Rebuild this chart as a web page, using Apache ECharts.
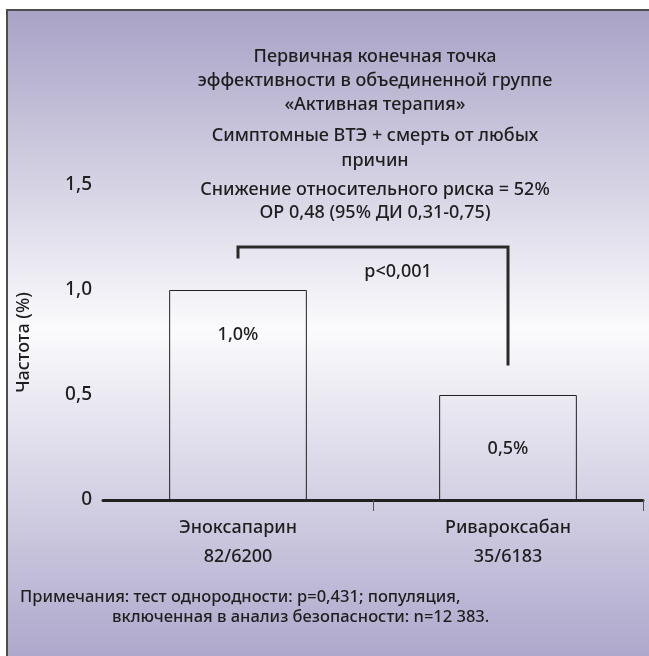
<!DOCTYPE html>
<html>
<head>
<meta charset="utf-8">
<style>
  html, body { margin: 0; padding: 0; background: #fff; overflow: hidden; }
  #chart { width: 649px; height: 656px; }
</style>
<script src="https://cdn.jsdelivr.net/npm/echarts@6/dist/echarts.min.js"></script>
</head>
<body>
<div id="chart"></div>
<script>
// Event rates (%) for the two treatment arms
const categories = ['Эноксапарин\n82/6200', 'Ривароксабан\n35/6183'];
const rates = [1.0, 0.5];
const rateLabels = ['1,0%', '0,5%'];

// Y axis ticks
const yTicks = [0, 0.5, 1.0, 1.5];
const yTickLabels = ['0', '0,5', '1,0', '1,5'];

// Significance bracket between the arms: [category index, level]
const bracketPoints = [[0, 1.15], [0, 1.205], [1, 1.205], [1, 0.64]];
const pValueText = 'p<0,001';

// Header and notes
const headerLines1 = ['Первичная конечная точка', 'эффективности в объединенной группе', '«Активная терапия»'];
const headerLines2 = ['Симптомные ВТЭ + смерть от любых', 'причин'];
const headerLines3 = ['Снижение относительного риска = 52%', 'ОР 0,48 (95% ДИ 0,31-0,75)'];
const noteLine1 = 'Примечания: тест однородности: p=0,431; популяция,';
const noteLine2 = 'включенная в анализ безопасности: n=12 383.';

const FONT = '"Noto Sans", sans-serif';
const INK = '#1e1e1e';
const WEIGHT = 500;

// gap between the top of each bar and its value label
const labelDistances = [36, 45];

const chart = echarts.init(document.getElementById('chart'), null, { renderer: 'canvas' });

const titleBase = {
  left: 375, textAlign: 'center', padding: 0,
  textStyle: { fontFamily: FONT, fontSize: 18, fontWeight: WEIGHT, color: INK }
};

chart.setOption({
  backgroundColor: '#ffffff',
  animation: false,
  title: [
    Object.assign({}, titleBase, { top: 45, text: headerLines1.join('\n'),
      textStyle: Object.assign({}, titleBase.textStyle, { lineHeight: 24 }) }),
    Object.assign({}, titleBase, { top: 123, text: headerLines2.join('\n'),
      textStyle: Object.assign({}, titleBase.textStyle, { lineHeight: 25 }) }),
    Object.assign({}, titleBase, { top: 178, text: headerLines3.join('\n'),
      textStyle: Object.assign({}, titleBase.textStyle, { lineHeight: 23 }) }),
    { left: 20, top: 589, padding: 0, text: noteLine1,
      textStyle: { fontFamily: FONT, fontSize: 16.5, fontWeight: WEIGHT, color: INK } },
    { left: 112, top: 609, padding: 0, text: noteLine2,
      textStyle: { fontFamily: FONT, fontSize: 16.5, fontWeight: WEIGHT, color: INK } }
  ],
  graphic: [
    {
      // panel background: lavender at the top and bottom, near white in the middle
      type: 'rect', z: -100, silent: true,
      shape: { x: 7, y: 10, width: 642, height: 646 },
      style: {
        fill: new echarts.graphic.LinearGradient(0, 10, 0, 656, [
          { offset: 0, color: '#a8a2c6' },
          { offset: 0.495, color: '#fbfbfd' },
          { offset: 1, color: '#aea8cc' }
        ], true)
      }
    },
    {
      // panel frame along the top and left edges
      type: 'polyline', z: -90, silent: true,
      shape: { points: [[7, 656], [7, 10], [649, 10]] },
      style: { stroke: '#4d4d4d', lineWidth: 2, fill: null }
    },
    {
      type: 'text', z: 10, x: 398, y: 272,
      style: { text: pValueText, fontFamily: FONT, fontSize: 18, fontWeight: WEIGHT, fill: INK,
        align: 'center', verticalAlign: 'middle' }
    }
  ],
  grid: { left: 103, right: 6, top: 185, bottom: 156 },
  xAxis: [
    {
      type: 'category', data: categories, boundaryGap: true,
      axisLine: { lineStyle: { color: '#222', width: 3 } },
      axisTick: { show: false },
      axisLabel: { fontFamily: FONT, fontSize: 18, fontWeight: WEIGHT, color: INK, lineHeight: 29, margin: 13 }
    },
    {
      type: 'value', min: 0, max: 2, interval: 1, position: 'bottom',
      axisLine: { show: false },
      axisLabel: { show: false },
      splitLine: { show: false },
      axisTick: { show: true, customValues: [1, 2], length: 11,
        lineStyle: { color: '#555', width: 1 } }
    }
  ],
  yAxis: {
    type: 'value', min: 0, max: 1.5, interval: 0.5,
    name: 'Частота (%)', nameLocation: 'middle', nameGap: 70,
    nameTextStyle: { fontFamily: FONT, fontSize: 18, fontWeight: WEIGHT, color: INK },
    axisLine: { show: false }, axisTick: { show: false }, splitLine: { show: false },
    axisLabel: {
      fontFamily: FONT, fontSize: 19, fontWeight: WEIGHT, color: INK, margin: 11,
      formatter: function (v) {
        const i = yTicks.findIndex(function (t) { return Math.abs(t - v) < 1e-9; });
        return i >= 0 ? yTickLabels[i] : '';
      }
    }
  },
  series: [
    {
      type: 'bar', xAxisIndex: 0, barWidth: '51%',
      data: rates.map(function (v, i) {
        return { value: v, label: { distance: labelDistances[i] } };
      }),
      itemStyle: { color: 'rgba(0,0,0,0)', borderColor: '#222', borderWidth: 1 },
      label: {
        show: true, position: 'insideTop',
        fontFamily: FONT, fontSize: 18, fontWeight: WEIGHT, color: INK,
        formatter: function (p) { return rateLabels[p.dataIndex]; }
      }
    },
    {
      type: 'line', data: bracketPoints, xAxisIndex: 0, symbol: 'none',
      lineStyle: { color: '#2a2a2a', width: 3, cap: 'butt', join: 'miter' },
      z: 5, silent: true
    }
  ]
});
</script>
</body>
</html>
